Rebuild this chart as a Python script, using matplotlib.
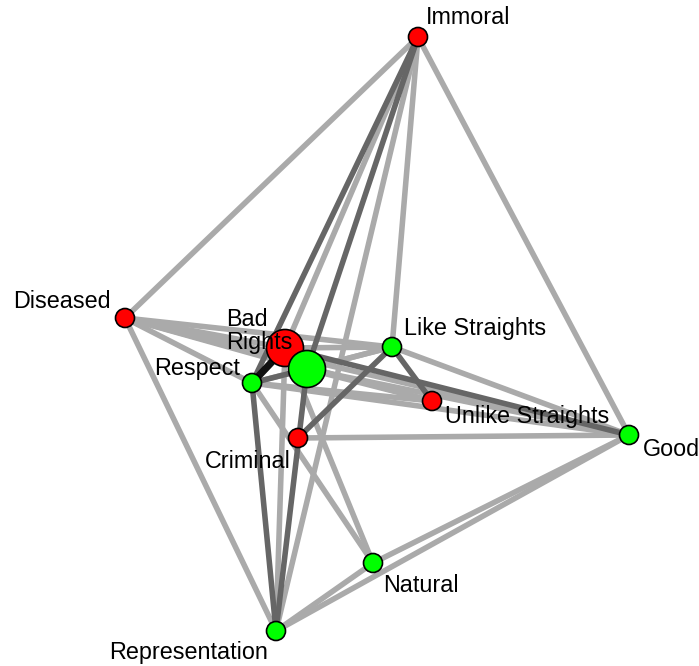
import matplotlib
matplotlib.use("Agg")
import matplotlib.pyplot as plt
from matplotlib.patches import Circle

plt.rcParams['font.family'] = ['Liberation Sans', 'DejaVu Sans']

# ---- data ----
nodes = ["Immoral", "Diseased", "Bad", "Rights", "Like Straights", "Respect",
         "Unlike Straights", "Criminal", "Good", "Natural", "Representation"]
node_x = [418, 125, 285, 307, 392, 252, 432, 298, 629, 373, 276]
node_y = [37, 318, 348, 369, 347, 383, 401, 438, 435, 563, 631]
node_group = ["neg", "neg", "neg", "pos", "pos", "pos", "neg", "neg", "pos", "pos", "pos"]
node_size = [1, 1, 2, 2, 1, 1, 1, 1, 1, 1, 1]

edge_from = ["Immoral", "Immoral", "Immoral", "Immoral", "Immoral", "Immoral", "Immoral",
             "Diseased", "Diseased", "Diseased", "Diseased", "Diseased", "Diseased", "Diseased",
             "Good", "Good", "Good", "Good", "Good", "Good", "Good",
             "Like Straights", "Like Straights", "Like Straights", "Like Straights", "Like Straights",
             "Unlike Straights", "Unlike Straights",
             "Respect", "Respect", "Respect", "Respect",
             "Rights", "Bad", "Bad", "Representation"]
edge_to = ["Diseased", "Good", "Respect", "Bad", "Rights", "Representation", "Like Straights",
           "Representation", "Bad", "Rights", "Respect", "Good", "Unlike Straights", "Like Straights",
           "Like Straights", "Bad", "Criminal", "Natural", "Representation", "Respect", "Rights",
           "Unlike Straights", "Criminal", "Bad", "Respect", "Rights",
           "Respect", "Rights",
           "Bad", "Rights", "Representation", "Natural",
           "Representation", "Natural", "Representation", "Natural"]
edge_strength = [0.2, 0.2, 0.5, 0.2, 0.5, 0.2, 0.2,
                 0.2, 0.2, 0.2, 0.2, 0.2, 0.2, 0.2,
                 0.2, 0.5, 0.2, 0.2, 0.2, 0.2, 0.2,
                 0.5, 0.5, 0.2, 0.2, 0.2,
                 0.2, 0.2,
                 0.9, 0.5, 0.5, 0.2,
                 0.5, 0.2, 0.2, 0.2]

# label placement (offset direction) per node
label_side = ["ur", "ul", "ul", "ul", "ur", "ul", "lr", "ll", "lr", "lr", "ll"]

# ---- drawing ----
W, H = 699, 666
fig = plt.figure(figsize=(W / 100, H / 100), dpi=100)
ax = fig.add_axes([0, 0, 1, 1])
ax.set_xlim(0, W)
ax.set_ylim(H, 0)
ax.axis('off')

pos = {n: (x, y) for n, x, y in zip(nodes, node_x, node_y)}

def ecol(s):
    if s >= 0.8:
        return '#111111'
    if s >= 0.4:
        return '#666666'
    return '#AAAAAA'

def ewidth(s):
    if s >= 0.8:
        return 5.2
    return 4.0

order = sorted(range(len(edge_from)), key=lambda i: edge_strength[i])
for i in order:
    a, b = pos[edge_from[i]], pos[edge_to[i]]
    ax.plot([a[0], b[0]], [a[1], b[1]], color=ecol(edge_strength[i]),
            lw=ewidth(edge_strength[i]), solid_capstyle='butt', zorder=1)

for n, x, y, g, s in zip(nodes, node_x, node_y, node_group, node_size):
    r = 9.5 if s == 1 else 18.5
    fc = '#FF0000' if g == "neg" else '#00FF00'
    ax.add_patch(Circle((x, y), r, facecolor=fc, edgecolor='black', lw=1.2, zorder=3))

offsets = {
    "ur": (8, -19, 'left'),
    "ul": (-14, -17, 'right'),
    "lr": (12, 17, 'left'),
    "ll": (-7, 23, 'right'),
}
custom = {
    "Bad": (-17, -28, 'right'),
    "Rights": (-14, -27, 'right'),
    "Like Straights": (12, -19, 'left'),
    "Respect": (-12, -15, 'right'),
    "Unlike Straights": (13, 16, 'left'),
    "Criminal": (-7, 23, 'right'),
    "Good": (14, 15, 'left'),
    "Natural": (10, 22, 'left'),
    "Representation": (-8, 21, 'right'),
}
for n, x, y, side in zip(nodes, node_x, node_y, label_side):
    dx, dy, ha = custom.get(n, offsets[side])
    ax.text(x + dx, y + dy, n, ha=ha, va='center', fontsize=16.8, color='black', zorder=4)

fig.savefig("out.png", dpi=100)
